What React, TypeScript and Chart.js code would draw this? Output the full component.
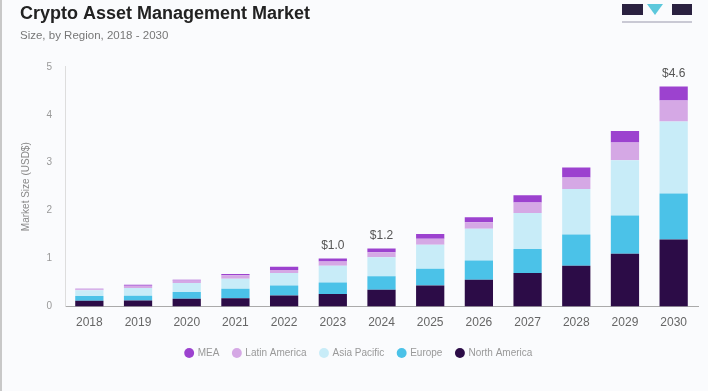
import React, { useEffect, useRef } from "react";
import { Chart, registerables } from "chart.js";

Chart.register(...registerables);

const years = ["2018", "2019", "2020", "2021", "2022", "2023", "2024", "2025", "2026", "2027", "2028", "2029", "2030"];
const northAmerica = [0.12, 0.125, 0.16, 0.17, 0.23, 0.26, 0.35, 0.44, 0.56, 0.70, 0.85, 1.10, 1.40];
const europe = [0.10, 0.10, 0.14, 0.20, 0.21, 0.24, 0.28, 0.35, 0.40, 0.50, 0.65, 0.80, 0.96];
const asiaPacific = [0.12, 0.16, 0.19, 0.21, 0.26, 0.35, 0.40, 0.50, 0.66, 0.75, 0.95, 1.15, 1.50];
const latinAmerica = [0.02, 0.05, 0.05, 0.07, 0.06, 0.09, 0.10, 0.125, 0.14, 0.22, 0.24, 0.37, 0.44];
const mea = [0.01, 0.02, 0.02, 0.03, 0.07, 0.06, 0.08, 0.10, 0.10, 0.15, 0.21, 0.24, 0.29];
const totalLabels = ["", "", "", "", "", "$1.0", "$1.2", "", "", "", "", "", "$4.6"];
const yTicks = [0, 1, 2, 3, 4, 5];

const totalLabelPlugin = {
  id: "totalLabels",
  afterDatasetsDraw(chart: any) {
    const ctx = chart.ctx;
    const yScale = chart.scales.y;
    const meta0 = chart.getDatasetMeta(0);
    ctx.save();
    ctx.font = "12px 'Liberation Sans', Arial, sans-serif";
    ctx.fillStyle = "#555";
    ctx.textAlign = "center";
    ctx.textBaseline = "middle";
    totalLabels.forEach((lab, i) => {
      if (!lab) return;
      let total = 0;
      chart.data.datasets.forEach((ds: any) => (total += ds.data[i]));
      const x = meta0.data[i].x;
      const y = yScale.getPixelForValue(total);
      ctx.fillText(lab, x, y - 13);
    });
    ctx.restore();
  },
};

export default function App() {
  const ref = useRef<HTMLCanvasElement>(null);
  useEffect(() => {
    document.body.style.margin = "0";
    const font = "'Liberation Sans', Arial, sans-serif";
    const chart = new Chart(ref.current!, {
      type: "bar",
      data: {
        labels: years,
        datasets: [
          { label: "North America", data: northAmerica, backgroundColor: "#2c0c47" },
          { label: "Europe", data: europe, backgroundColor: "#4bc2e8" },
          { label: "Asia Pacific", data: asiaPacific, backgroundColor: "#c8ecf8" },
          { label: "Latin America", data: latinAmerica, backgroundColor: "#d5a8e5" },
          { label: "MEA", data: mea, backgroundColor: "#9c42cf" },
        ],
      },
      options: {
        responsive: false,
        animation: false,
        devicePixelRatio: 1,
        layout: { padding: { left: 20, right: 10, top: 0, bottom: 23 } },
        datasets: { bar: { barPercentage: 0.58, categoryPercentage: 1 } },
        plugins: {
          title: {
            display: true,
            text: "Crypto Asset Management Market",
            align: "start",
            color: "#222",
            font: { family: font, size: 18, weight: "bold" },
            padding: { top: 3, bottom: 2 },
          },
          subtitle: {
            display: true,
            text: "Size, by Region, 2018 - 2030",
            align: "start",
            color: "#777",
            font: { family: font, size: 11.5 },
            padding: { top: 2, bottom: 24.5 },
          },
          legend: {
            position: "bottom",
            reverse: true,
            labels: {
              usePointStyle: true,
              pointStyle: "circle",
              boxWidth: 7,
              boxHeight: 7,
              padding: 14,
              color: "#999",
              font: { family: font, size: 10 },
            },
          },
          tooltip: { enabled: false },
        },
        scales: {
          x: {
            stacked: true,
            grid: { display: false, drawTicks: false },
            border: { color: "#aaa" },
            ticks: { color: "#666", font: { family: font, size: 12 }, padding: 9 },
            afterFit: (s: any) => {
              s.height = 27.5;
            },
          },
          y: {
            stacked: true,
            min: 0,
            max: 5,
            afterBuildTicks: (s: any) => {
              s.ticks = yTicks.map((v) => ({ value: v }));
            },
            afterFit: (s: any) => {
              s.width = 45;
            },
            grid: { display: false, drawTicks: false },
            border: { color: "#ddd" },
            ticks: { color: "#999", font: { family: font, size: 10 }, padding: 13 },
            title: {
              display: true,
              text: "Market Size (USD$)",
              color: "#888",
              font: { family: font, size: 10 },
              padding: { top: 0, bottom: 8 },
            },
          },
        },
      },
      plugins: [totalLabelPlugin],
    } as any);
    return () => chart.destroy();
  }, []);

  return (
    <div style={{ position: "relative", width: 708, height: 391, background: "#fafbfd", overflow: "hidden" }}>
      <div style={{ position: "absolute", left: 0, top: 0, width: 2, height: 391, background: "#c8c8c8" }} />
      <canvas ref={ref} width={708} height={391} style={{ position: "absolute", left: 0, top: 0 }} />
      <div style={{ position: "absolute", left: 622, top: 4, width: 21, height: 11, background: "#2a2140" }} />
      <div
        style={{
          position: "absolute",
          left: 647,
          top: 4,
          width: 0,
          height: 0,
          borderLeft: "8px solid transparent",
          borderRight: "8px solid transparent",
          borderTop: "11px solid #5cc8dc",
        }}
      />
      <div style={{ position: "absolute", left: 672, top: 4, width: 20, height: 11, background: "#2a2140" }} />
      <div style={{ position: "absolute", left: 622, top: 21, width: 70, height: 2, background: "#c9c9d4" }} />
    </div>
  );
}
